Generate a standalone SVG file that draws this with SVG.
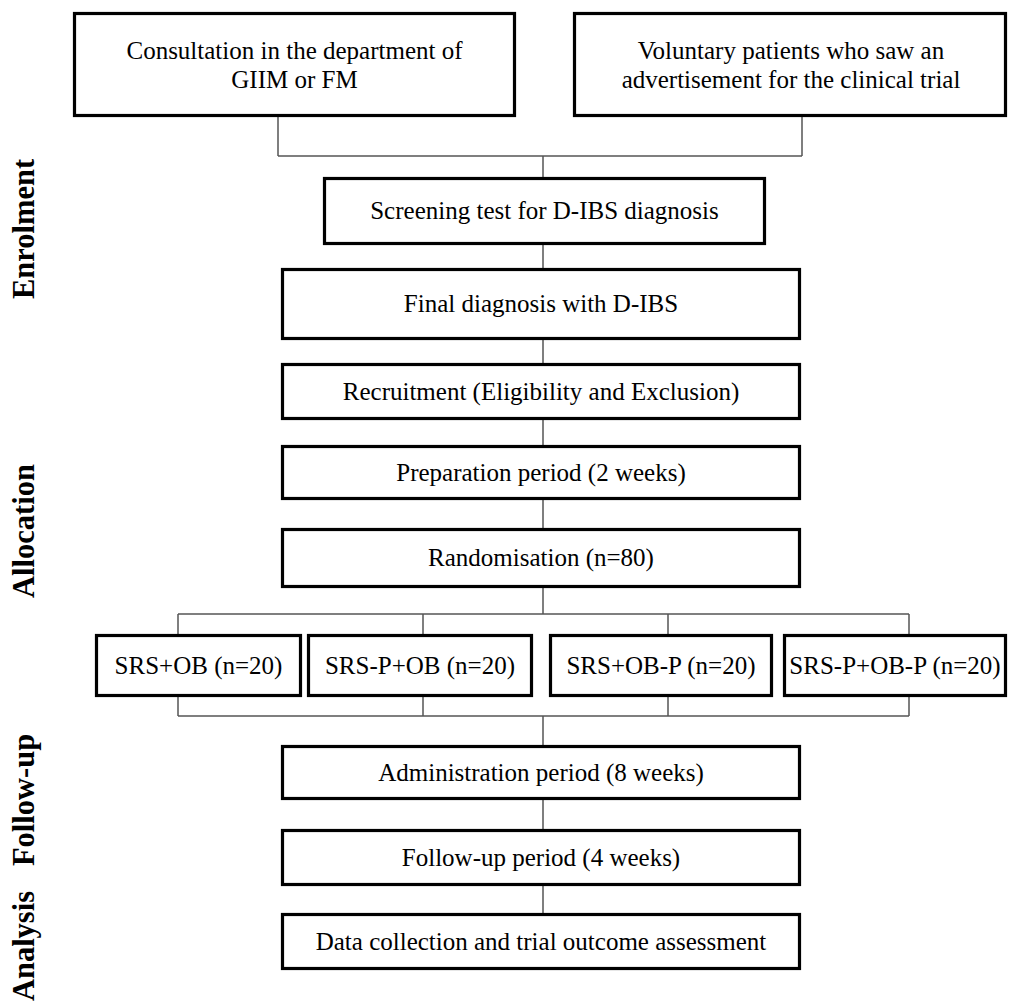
<svg xmlns="http://www.w3.org/2000/svg" width="1009" height="1004" viewBox="0 0 1009 1004">
<style>
.box{fill:#fff;stroke:#000;stroke-width:3.2}
.t{font-family:"Liberation Serif","Times New Roman",serif;font-size:25px;fill:#000;text-anchor:middle}
.side{font-family:"Liberation Serif","Times New Roman",serif;font-size:30.5px;font-weight:bold;fill:#000;text-anchor:middle}
.c{fill:none;stroke:#555;stroke-width:1.5}
</style>
<rect width="1009" height="1004" fill="#fff"/>
<g id="connectors">
<path class="c" d="M278,117V156M802,117V156M278,156H802M543,156V177"/>
<path class="c" d="M543,245V268M543,340V363M543,420V445M543,500V528"/>
<path class="c" d="M543,588V614M178,614H909M178,614V634M423,614V634M668,614V634M909,614V634"/>
<path class="c" d="M178,697V716M423,697V716M668,697V716M909,697V716M178,716H909M543,716V745"/>
<path class="c" d="M543,800V829M543,886V913"/>
</g>
<g id="label-enrolment"><text class="side" transform="translate(34,229) rotate(-90)">Enrolment</text></g>
<g id="label-allocation"><text class="side" transform="translate(34,531) rotate(-90)">Allocation</text></g>
<g id="label-followup"><text class="side" transform="translate(34,800) rotate(-90)">Follow-up</text></g>
<g id="label-analysis"><text class="side" transform="translate(34,946) rotate(-90)">Analysis</text></g>
<g id="n1"><rect class="box" x="74.5" y="13.5" width="440" height="102"/><text class="t" x="294.5" y="59">Consultation in the department of</text><text class="t" x="294.5" y="88">GIIM or FM</text></g>
<g id="n2"><rect class="box" x="574.5" y="13.5" width="431" height="102"/><text class="t" x="791" y="59">Voluntary patients who saw an</text><text class="t" x="791" y="88">advertisement for the clinical trial</text></g>
<g id="n3"><rect class="box" x="324.5" y="178.5" width="440" height="65"/><text class="t" x="544.5" y="219">Screening test for D-IBS diagnosis</text></g>
<g id="n4"><rect class="box" x="282.5" y="269.5" width="517" height="69"/><text class="t" x="541" y="312">Final diagnosis with D-IBS</text></g>
<g id="n5"><rect class="box" x="282.5" y="364.5" width="517" height="54"/><text class="t" x="541" y="400">Recruitment (Eligibility and Exclusion)</text></g>
<g id="n6"><rect class="box" x="282.5" y="446.5" width="517" height="52"/><text class="t" x="541" y="481">Preparation period (2 weeks)</text></g>
<g id="n7"><rect class="box" x="282.5" y="529.5" width="517" height="57"/><text class="t" x="541" y="566">Randomisation (n=80)</text></g>
<g id="g1"><rect class="box" x="96.5" y="635.5" width="204" height="60"/><text class="t" x="198.5" y="674">SRS+OB (n=20)</text></g>
<g id="g2"><rect class="box" x="308.5" y="635.5" width="223" height="60"/><text class="t" x="420" y="674">SRS-P+OB (n=20)</text></g>
<g id="g3"><rect class="box" x="550.5" y="635.5" width="221" height="60"/><text class="t" x="661" y="674">SRS+OB-P (n=20)</text></g>
<g id="g4"><rect class="box" x="784.5" y="635.5" width="221" height="60"/><text class="t" x="895" y="674">SRS-P+OB-P (n=20)</text></g>
<g id="n8"><rect class="box" x="282.5" y="746.5" width="517" height="52"/><text class="t" x="541" y="781">Administration period (8 weeks)</text></g>
<g id="n9"><rect class="box" x="282.5" y="830.5" width="517" height="54"/><text class="t" x="541" y="866">Follow-up period (4 weeks)</text></g>
<g id="n10"><rect class="box" x="282.5" y="914.5" width="517" height="54"/><text class="t" x="541" y="950">Data collection and trial outcome assessment</text></g>
</svg>
